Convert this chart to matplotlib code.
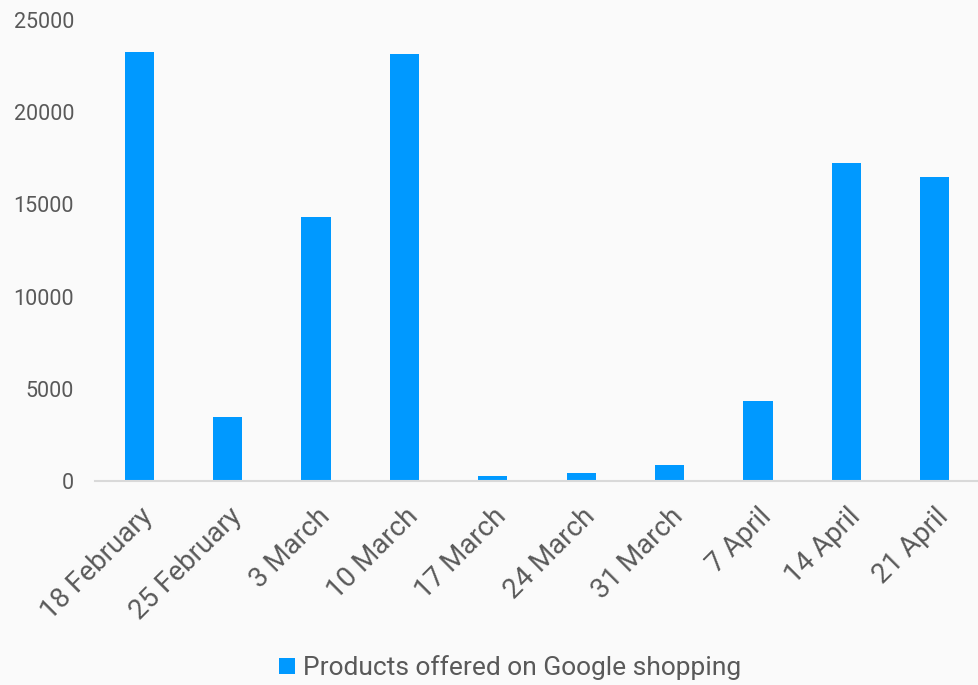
import matplotlib
matplotlib.use("Agg")
import matplotlib.pyplot as plt
import numpy as np

plt.rcParams["font.family"] = ["Roboto", "DejaVu Sans"]

weeks = ["18 February", "25 February", "3 March", "10 March", "17 March",
         "24 March", "31 March", "7 April", "14 April", "21 April"]
products = [23250, 3470, 14320, 23150, 270, 430, 870, 4330, 17230, 16480]
series_name = "Products offered on Google shopping"

BAR_COLOR = "#0099ff"
TEXT_COLOR = "#595959"
BG = "#fafafa"

fig = plt.figure(figsize=(9.79, 6.85), dpi=100, facecolor=BG)
ax = fig.add_axes([95 / 979, 1 - 481 / 685, 1 - 95 / 979, 461 / 685])
ax.set_facecolor(BG)

x = np.arange(len(weeks))
ax.bar(x, products, width=0.33, color=BAR_COLOR, label=series_name, zorder=2)

ax.set_xlim(-0.5, len(weeks) - 0.5)
ax.set_ylim(0, 25000)
ax.set_yticks(range(0, 25001, 5000))
ax.set_xticks(x)
ax.set_xticklabels(weeks, rotation=45, ha="right", rotation_mode="anchor")

for s in ["top", "right", "left"]:
    ax.spines[s].set_visible(False)
ax.spines["bottom"].set_color("#d9d9d9")
ax.spines["bottom"].set_linewidth(1.5)
ax.tick_params(axis="both", length=0, colors=TEXT_COLOR)
ax.tick_params(axis="y", pad=15, labelsize=15.5)
ax.tick_params(axis="x", pad=16, labelsize=20)

# legend centred under the figure rather than the axes
ax.legend(loc="center", bbox_to_anchor=((510 - 95) / 884, -0.4055), frameon=False,
          fontsize=19, handlelength=0.6, handleheight=0.6, handletextpad=0.3,
          labelcolor=TEXT_COLOR)

fig.savefig("out.png", dpi=100, facecolor=BG)
